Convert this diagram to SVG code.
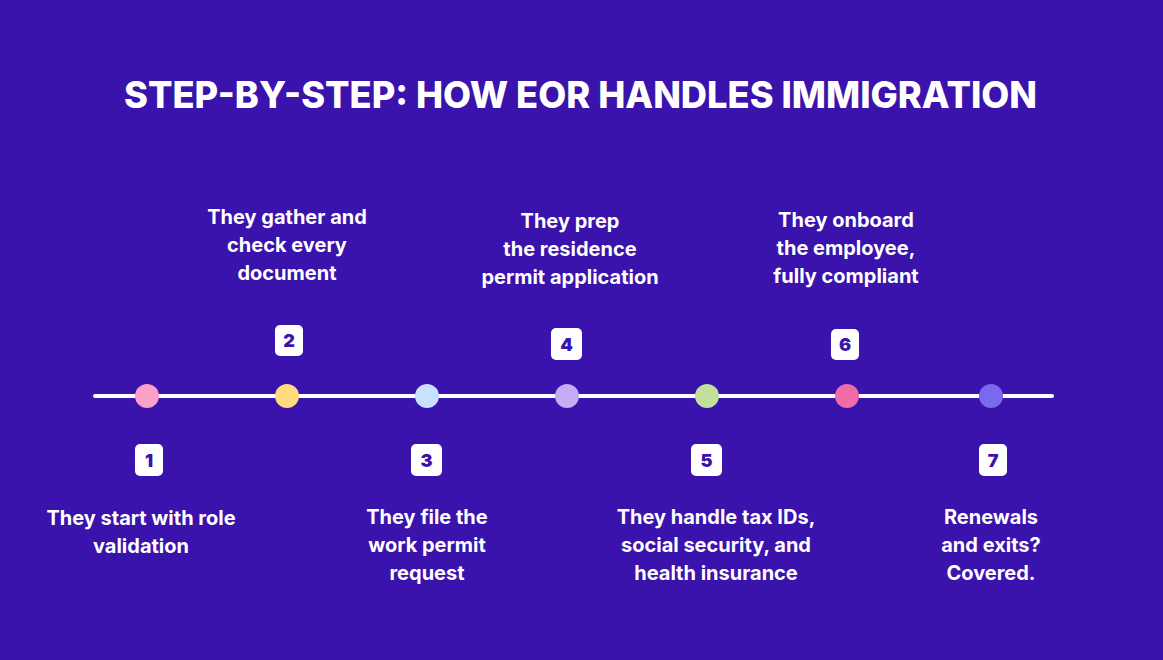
<svg xmlns="http://www.w3.org/2000/svg" width="1163" height="660" viewBox="0 0 1163 660">
<style>
.title{font-family:Inter,"Liberation Sans",sans-serif;font-weight:800;font-size:37px;fill:#fff}
.lbl{font-family:Inter,"Liberation Sans",sans-serif;font-weight:700;font-size:20px;fill:#fff;text-anchor:middle}
.badge{fill:#fff}
.num{font-family:Inter,"Liberation Sans",sans-serif;font-weight:900;font-size:18px;fill:#3A12AC;text-anchor:middle}
</style>
<rect width="1163" height="660" fill="#3A12AC"/>
<text class="title" x="124" y="108" textLength="913" lengthAdjust="spacingAndGlyphs">STEP-BY-STEP: HOW EOR HANDLES IMMIGRATION</text>
<g id="connectors">
<line x1="95" y1="396" x2="1052" y2="396" stroke="#fff" stroke-width="4" stroke-linecap="round"/>
</g>
<g id="step1">
<circle cx="147" cy="396" r="12" fill="#F9A1C9"/>
<rect class="badge" x="135" y="444" width="28" height="32" rx="5"/>
<text class="num" x="149" y="467">1</text>
<text class="lbl" x="141" y="525">They start with role<tspan x="141" dy="28">validation</tspan></text>
</g>
<g id="step2">
<circle cx="287" cy="396" r="12" fill="#FFDB7D"/>
<rect class="badge" x="275" y="325" width="28" height="31" rx="5"/>
<text class="num" x="289" y="347">2</text>
<text class="lbl" x="287" y="224">They gather and<tspan x="287" dy="28">check every</tspan><tspan x="287" dy="28">document</tspan></text>
</g>
<g id="step3">
<circle cx="427" cy="396" r="12" fill="#C8E1FF"/>
<rect class="badge" x="411" y="444" width="31" height="32" rx="5"/>
<text class="num" x="426.5" y="467">3</text>
<text class="lbl" x="427" y="524">They file the<tspan x="427" dy="28">work permit</tspan><tspan x="427" dy="28">request</tspan></text>
</g>
<g id="step4">
<circle cx="567" cy="396" r="12" fill="#C5ADF5"/>
<rect class="badge" x="551" y="328" width="31" height="32" rx="5"/>
<text class="num" x="566.5" y="351">4</text>
<text class="lbl" x="570" y="228">They prep<tspan x="570" dy="28">the residence</tspan><tspan x="570" dy="28">permit application</tspan></text>
</g>
<g id="step5">
<circle cx="707" cy="396" r="12" fill="#C0E09C"/>
<rect class="badge" x="691" y="444" width="31" height="32" rx="5"/>
<text class="num" x="706.5" y="467">5</text>
<text class="lbl" x="716" y="524">They handle tax IDs,<tspan x="716" dy="28">social security, and</tspan><tspan x="716" dy="28">health insurance</tspan></text>
</g>
<g id="step6">
<circle cx="847" cy="396" r="12" fill="#F06CA8"/>
<rect class="badge" x="831" y="329" width="28" height="31" rx="5"/>
<text class="num" x="845" y="351">6</text>
<text class="lbl" x="846" y="227">They onboard<tspan x="846" dy="28">the employee,</tspan><tspan x="846" dy="28">fully compliant</tspan></text>
</g>
<g id="step7">
<circle cx="991" cy="396" r="12" fill="#7A68EE"/>
<rect class="badge" x="979" y="444" width="28" height="32" rx="5"/>
<text class="num" x="993" y="467">7</text>
<text class="lbl" x="991" y="524">Renewals<tspan x="991" dy="28">and exits?</tspan><tspan x="991" dy="28">Covered.</tspan></text>
</g>
</svg>
